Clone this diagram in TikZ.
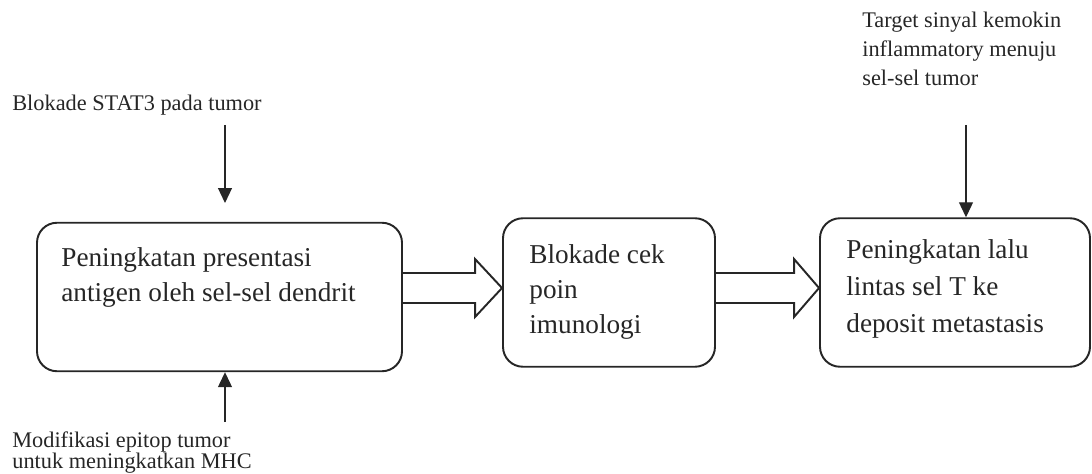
\documentclass[tikz,border=0pt]{standalone}
\usepackage{fontspec}
\setmainfont{Liberation Serif}
\usetikzlibrary{arrows.meta, positioning, calc}

\tikzset{
  box/.style={draw=black!85, line width=1.1pt, rounded corners=0.4cm,
              minimum width=#1, minimum height=2.97cm, inner sep=0pt},
  txt/.style={anchor=north west, align=left, inner sep=0pt, text=black!85,
              font=\fontsize{15.5}{20}\selectfont},
  note/.style={anchor=west, align=left, inner sep=0pt, text=black!85,
               font=\fontsize{12.7}{16.3}\selectfont},
  thin/.style={-{Triangle[width=0.28cm,length=0.3cm]}, line width=0.7pt, draw=black!85},
  blk/.style={line width=1.1pt, draw=black!85, line join=miter}
}

\begin{document}
\begin{tikzpicture}

   \useasboundingbox (0,0) rectangle (21.84,9.46);

   % Boxes
      \node[box=7.30cm] (b1) at (4.39,3.52) {};
      \node[box=4.24cm] (b2) at (12.18,3.61) {};
      \node[box=5.40cm] (b3) at (19.10,3.61) {};

   % Box texts
      \node[txt] (t1) at ($(b1.north west)+(0.50,-0.50)$) {Peningkatan presentasi\\antigen oleh sel-sel dendrit};
      \node[txt] (t2) at ($(b2.north west)+(0.54,-0.54)$) {Blokade cek\\poin\\imunologi};
      \node[txt, font=\fontsize{15.5}{21}\selectfont] (t3) at ($(b3.north west)+(0.54,-0.44)$) {Peningkatan lalu\\lintas sel T ke\\deposit metastasis};

   % Notes
      \node[note] (n1) at (0.24,7.36) {Blokade STAT3 pada tumor};
      \node[note, font=\fontsize{12.7}{12.3}\selectfont] (n2) at (0.24,0.41) {Modifikasi epitop tumor\\untuk meningkatkan MHC};
      \node[note] (n3) at (17.24,8.48) {Target sinyal kemokin\\inflammatory menuju\\sel-sel tumor};

   % Thin arrows
      \coordinate (p1) at (4.50,6.96);
      \coordinate (q1) at (4.50,5.40);
      \coordinate (p2) at (4.50,1.02);
      \coordinate (p3) at (19.32,6.96);
      \draw[thin] (p1) -- (q1);
      \draw[thin] (p2) -- (p2 |- b1.south);
      \draw[thin] (p3) -- (p3 |- b3.north);

   % Block arrows
      \coordinate (s1) at (b1.east |- 0,3.70);
      \coordinate (e1) at (b2.west |- 0,3.70);
      \coordinate (s2) at (b2.east |- 0,3.70);
      \coordinate (e2) at (b3.west |- 0,3.70);
      \draw[blk] ($(s1)+(0,0.3)$) -- ($(e1)+(-0.54,0.3)$) -- ($(e1)+(-0.54,0.58)$) -- (e1)
                 -- ($(e1)+(-0.54,-0.58)$) -- ($(e1)+(-0.54,-0.3)$) -- ($(s1)+(0,-0.3)$);
      \draw[blk] ($(s2)+(0,0.3)$) -- ($(e2)+(-0.50,0.3)$) -- ($(e2)+(-0.50,0.58)$) -- (e2)
                 -- ($(e2)+(-0.50,-0.58)$) -- ($(e2)+(-0.50,-0.3)$) -- ($(s2)+(0,-0.3)$);
\end{tikzpicture}
\end{document}
